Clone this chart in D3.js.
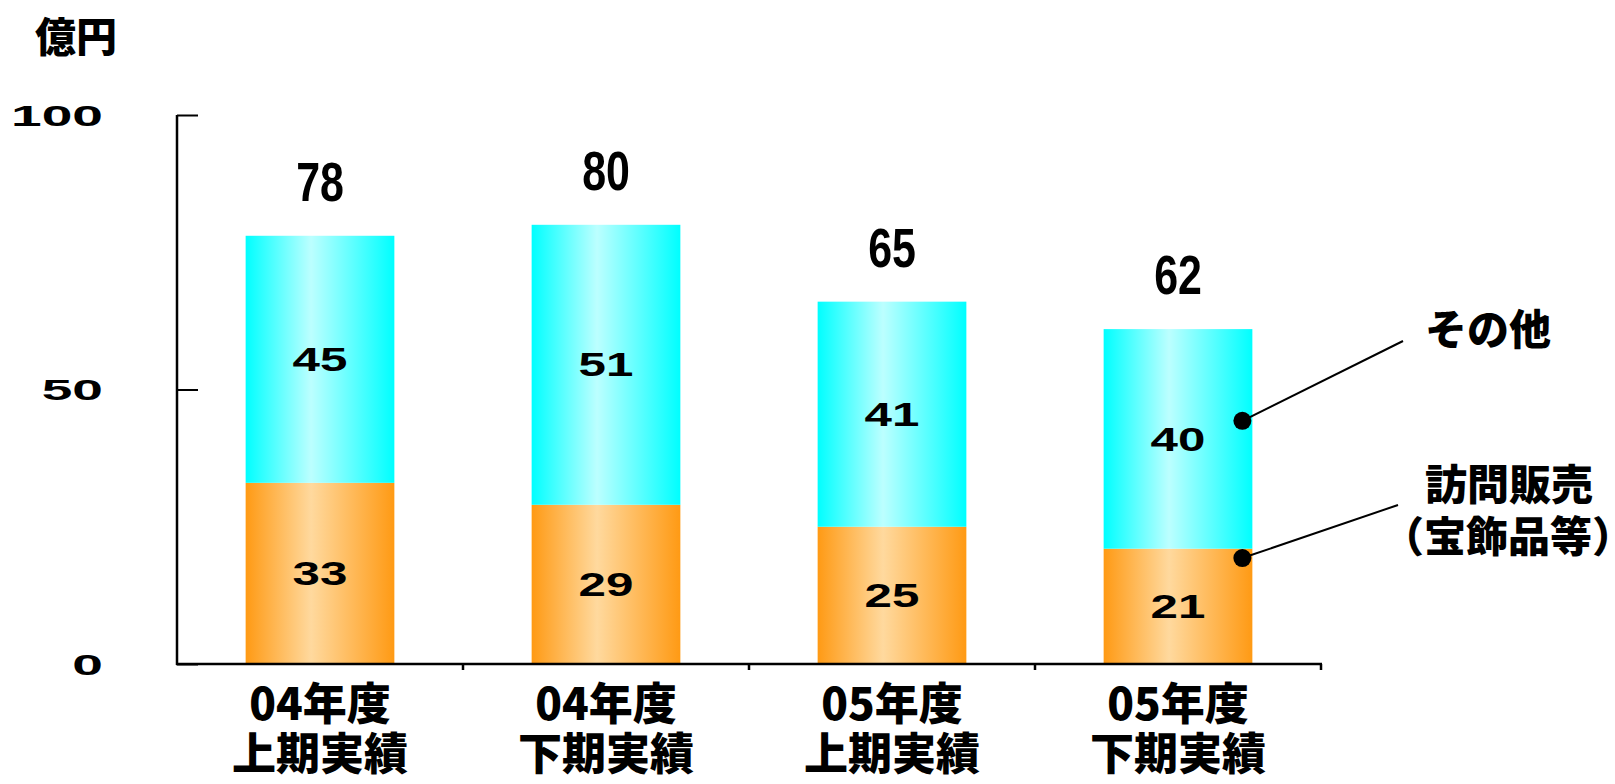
<!DOCTYPE html>
<html lang="ja">
<head>
<meta charset="utf-8">
<title>売上高推移</title>
<script src="https://cdn.jsdelivr.net/npm/d3@7"></script>
<style>
  html, body { margin: 0; padding: 0; background: #ffffff; }
  svg { display: block; }
  .halt { font-feature-settings: "halt" 1; }
</style>
</head>
<body>
<svg id="chart" width="1615" height="784"></svg>
<script>
// Categories (two-line labels)
const categories = ["04年度 上期実績", "04年度 下期実績", "05年度 上期実績", "05年度 下期実績"];
const categoryLine1 = ["04年度", "04年度", "05年度", "05年度"];
const categoryLine2 = ["上期実績", "下期実績", "上期実績", "下期実績"];

// Series values (億円)
const salesValues = [33, 29, 25, 21];   // 訪問販売（宝飾品等）
const otherValues = [45, 51, 41, 40];   // その他
const totalLabels = [78, 80, 65, 62];   // stated totals

// Axis ticks
const yTicks = [0, 50, 100];

// Legend callouts: value on the last bar where each leader dot sits
const legendItems = [
  { series: "other", lines: ["その他"], anchorValue: 44.3 },
  { series: "sales", lines: ["訪問販売", "（宝飾品等）"], anchorValue: 19.3 }
];

const svg = d3.select("#chart");
const plot = { left: 177, right: 1321, top: 115, bottom: 664 };
const cjk = "'Noto Sans CJK JP', 'Noto Sans CJK SC', sans-serif";
const latin = "'Liberation Sans', Arial, sans-serif";

const xCat = d3.scaleBand().domain(categories).range([plot.left, plot.right]);
const barW = xCat.bandwidth() * 0.52;
const barX = c => xCat(c) + (xCat.bandwidth() - barW) / 2;
const y = d3.scaleLinear().domain([0, 100]).range([plot.bottom, plot.top]);

// Horizontal shading gradients for the bars
const defs = svg.append("defs");
function hGradient(id, edge, light) {
  const g = defs.append("linearGradient").attr("id", id)
    .attr("x1", "0%").attr("x2", "100%").attr("y1", "0%").attr("y2", "0%");
  g.append("stop").attr("offset", "0%").attr("stop-color", edge);
  g.append("stop").attr("offset", "44%").attr("stop-color", light);
  g.append("stop").attr("offset", "100%").attr("stop-color", edge);
}
hGradient("gradOther", "#00ffff", "#bcffff");
hGradient("gradSales", "#ff9a14", "#ffd99e");

// Stacked data
const rows = categories.map((c, i) => ({ cat: c, sales: salesValues[i], other: otherValues[i] }));
const stack = d3.stack().keys(["sales", "other"])(rows);
const fills = { sales: "url(#gradSales)", other: "url(#gradOther)" };

const layers = svg.append("g").selectAll("g").data(stack).join("g")
  .attr("fill", d => fills[d.key]);
layers.selectAll("rect").data(d => d).join("rect")
  .attr("x", d => barX(d.data.cat))
  .attr("width", barW)
  .attr("y", d => y(d[1]))
  .attr("height", d => y(d[0]) - y(d[1]));

// Segment value labels (wide digits)
layers.selectAll("text").data(d => d).join("text")
  .attr("transform", d => `translate(${barX(d.data.cat) + barW / 2},${(y(d[0]) + y(d[1])) / 2}) scale(1.45,1)`)
  .attr("text-anchor", "middle")
  .attr("dominant-baseline", "central")
  .attr("font-family", latin)
  .attr("font-weight", "bold")
  .attr("font-size", 34)
  .attr("fill", "#000")
  .text(d => d[1] - d[0]);

// Totals above each stack (narrow digits)
svg.append("g").selectAll("text").data(rows).join("text")
  .attr("transform", d => `translate(${barX(d.cat) + barW / 2},${y(d.sales + d.other) - 35}) scale(0.78,1)`)
  .attr("text-anchor", "middle")
  .attr("font-family", latin)
  .attr("font-weight", "bold")
  .attr("font-size", 55)
  .attr("fill", "#000")
  .text((d, i) => totalLabels[i]);

// Y axis with inward ticks
const yAxis = svg.append("g")
  .attr("transform", `translate(${plot.left},0)`)
  .call(d3.axisLeft(y).tickValues(yTicks).tickSizeInner(-21).tickSizeOuter(0));
yAxis.select(".domain").attr("stroke", "#000").attr("stroke-width", 2.5)
  .attr("d", `M0,${plot.top}V${plot.bottom + 1}`);
yAxis.selectAll(".tick line").attr("stroke", "#000").attr("stroke-width", 2);
yAxis.selectAll(".tick text")
  .attr("x", null).attr("dy", null)
  .attr("transform", "translate(-74,0) scale(1.9,1)")
  .attr("text-anchor", "end")
  .attr("dominant-baseline", "central")
  .attr("font-family", latin)
  .attr("font-weight", "bold")
  .attr("font-size", 29)
  .attr("fill", "#000");

// X axis line with category boundary ticks
const xAxis = svg.append("g");
xAxis.append("line")
  .attr("x1", plot.left - 1).attr("x2", plot.right + 1)
  .attr("y1", plot.bottom).attr("y2", plot.bottom)
  .attr("stroke", "#000").attr("stroke-width", 2.5);
const boundaries = categories.map(c => xCat(c)).concat([xCat(categories[categories.length - 1]) + xCat.bandwidth()]);
xAxis.selectAll("line.bt").data(boundaries.slice(1)).join("line")
  .attr("class", "bt")
  .attr("x1", d => d).attr("x2", d => d)
  .attr("y1", plot.bottom).attr("y2", plot.bottom + 6)
  .attr("stroke", "#000").attr("stroke-width", 2.5);

// Category labels, one text element per line
const catG = svg.append("g");
[[categoryLine1, 720], [categoryLine2, 770]].forEach(([lines, baseY]) => {
  catG.append("g").selectAll("text").data(categories).join("text")
    .attr("x", c => xCat(c) + xCat.bandwidth() / 2)
    .attr("y", baseY)
    .attr("text-anchor", "middle")
    .attr("font-family", cjk)
    .attr("font-weight", 900)
    .attr("font-size", 44)
    .attr("fill", "#000")
    .text((c, i) => lines[i]);
});

// Unit label
svg.append("text")
  .attr("x", 76).attr("y", 34)
  .attr("text-anchor", "middle")
  .attr("dominant-baseline", "central")
  .attr("font-family", cjk)
  .attr("font-weight", 900)
  .attr("font-size", 41)
  .attr("fill", "#000")
  .text("億円");

// Legend callouts attached to the last bar
const lastCat = categories[categories.length - 1];
const dotX = barX(lastCat) + barW - 10;
const legendPos = {
  other: { lineEnd: [1403, 341], textX: 1488, textY: [326] },
  sales: { lineEnd: [1398, 505], textX: [1509, 1508], textY: [481, 533] }
};
const legend = svg.append("g").selectAll("g").data(legendItems).join("g");
legend.append("line")
  .attr("x1", dotX).attr("y1", d => y(d.anchorValue))
  .attr("x2", d => legendPos[d.series].lineEnd[0])
  .attr("y2", d => legendPos[d.series].lineEnd[1])
  .attr("stroke", "#000").attr("stroke-width", 2);
legend.append("circle")
  .attr("cx", dotX).attr("cy", d => y(d.anchorValue))
  .attr("r", 9).attr("fill", "#000");
legend.each(function (d) {
  const g = d3.select(this);
  const pos = legendPos[d.series];
  d.lines.forEach((t, k) => {
    g.append("text")
      .attr("class", "halt")
      .attr("x", Array.isArray(pos.textX) ? pos.textX[k] : pos.textX)
      .attr("y", pos.textY[k])
      .attr("text-anchor", "middle")
      .attr("dominant-baseline", "central")
      .attr("font-family", cjk)
      .attr("font-weight", 900)
      .attr("font-size", 42)
      .attr("fill", "#000")
      .text(t);
  });
});
</script>
</body>
</html>
